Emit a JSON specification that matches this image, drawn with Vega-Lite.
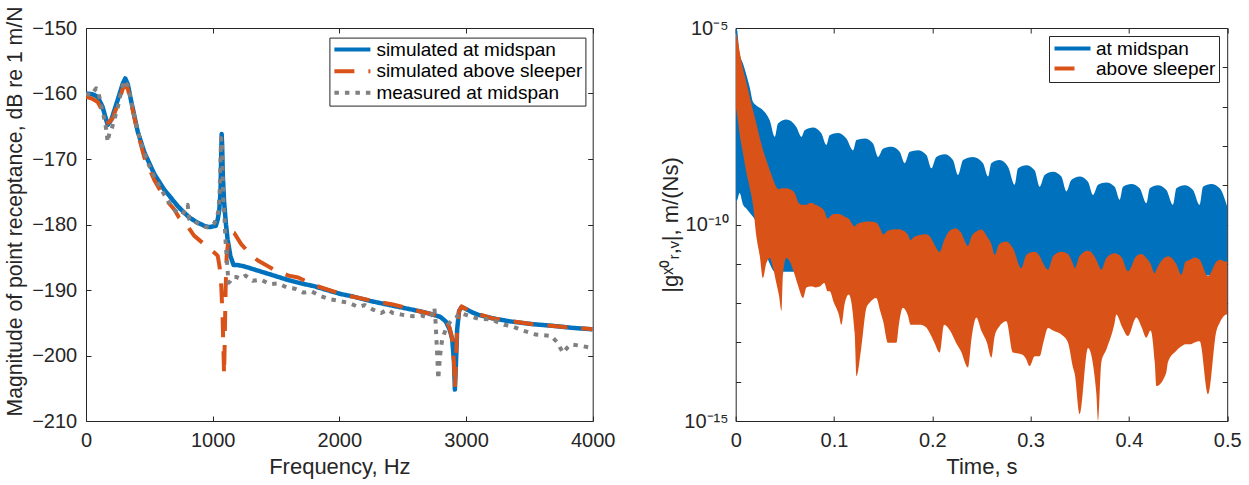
{
"$schema": "https://vega.github.io/schema/vega-lite/v6.json",
"background": "white",
"padding": {"left": 4, "top": 6, "right": 4, "bottom": 4},
"bounds": "flush",
"spacing": 142.7,
"resolve": {"scale": {"color": "independent", "strokeDash": "independent"}, "legend": {"color": "independent", "strokeDash": "independent"}},
"config": {
 "font": "Liberation Sans",
 "view": {"stroke": null},
 "axis": {"domainColor": "#262626", "tickColor": "#262626", "labelColor": "#262626", "titleColor": "#262626", "labelFont": "Liberation Sans", "titleFont": "Liberation Sans", "labelFontSize": 20, "titleFontSize": 22, "titleFontWeight": "normal", "tickSize": -5, "grid": false, "labelFlush": false, "labelOverlap": false, "domainWidth": 1, "tickWidth": 1},
 "legend": {"strokeColor": "#262626", "fillColor": "white", "padding": 2.5, "labelFont": "Liberation Sans", "labelFontSize": 19, "labelColor": "#000000", "labelLimit": 400, "symbolSize": 100, "labelOffset": 25.5, "orient": "none"}
},
"datasets": {
 "mid": [
  {"s":"simulated at midspan","f":0,"dB":-160.0},{"s":"simulated at midspan","f":50,"dB":-160.1},{"s":"simulated at midspan","f":92,"dB":-160.5},{"s":"simulated at midspan","f":130,"dB":-162.0},{"s":"simulated at midspan","f":171,"dB":-164.8},{"s":"simulated at midspan","f":200,"dB":-164.0},{"s":"simulated at midspan","f":250,"dB":-161.0},{"s":"simulated at midspan","f":290,"dB":-158.5},{"s":"simulated at midspan","f":310,"dB":-157.7},{"s":"simulated at midspan","f":330,"dB":-158.6},{"s":"simulated at midspan","f":355,"dB":-161.0},{"s":"simulated at midspan","f":408,"dB":-165.8},{"s":"simulated at midspan","f":461,"dB":-169.0},{"s":"simulated at midspan","f":539,"dB":-172.3},{"s":"simulated at midspan","f":618,"dB":-174.7},{"s":"simulated at midspan","f":653,"dB":-175.5},{"s":"simulated at midspan","f":724,"dB":-177.2},{"s":"simulated at midspan","f":813,"dB":-178.9},{"s":"simulated at midspan","f":880,"dB":-179.7},{"s":"simulated at midspan","f":934,"dB":-180.2},{"s":"simulated at midspan","f":972,"dB":-180.4},{"s":"simulated at midspan","f":1000,"dB":-180.3},{"s":"simulated at midspan","f":1025,"dB":-180.2},{"s":"simulated at midspan","f":1040,"dB":-179.2},{"s":"simulated at midspan","f":1052,"dB":-177.8},{"s":"simulated at midspan","f":1062,"dB":-175.0},{"s":"simulated at midspan","f":1067,"dB":-170.0},{"s":"simulated at midspan","f":1071,"dB":-166.2},{"s":"simulated at midspan","f":1075,"dB":-168.0},{"s":"simulated at midspan","f":1080,"dB":-172.5},{"s":"simulated at midspan","f":1090,"dB":-176.5},{"s":"simulated at midspan","f":1105,"dB":-180.0},{"s":"simulated at midspan","f":1118,"dB":-182.3},{"s":"simulated at midspan","f":1140,"dB":-184.8},{"s":"simulated at midspan","f":1165,"dB":-186.2},{"s":"simulated at midspan","f":1200,"dB":-186.2},{"s":"simulated at midspan","f":1250,"dB":-186.4},{"s":"simulated at midspan","f":1317,"dB":-186.8},{"s":"simulated at midspan","f":1400,"dB":-187.3},{"s":"simulated at midspan","f":1484,"dB":-187.8},{"s":"simulated at midspan","f":1583,"dB":-188.4},{"s":"simulated at midspan","f":1700,"dB":-189.0},{"s":"simulated at midspan","f":1797,"dB":-189.4},{"s":"simulated at midspan","f":1900,"dB":-190.0},{"s":"simulated at midspan","f":2008,"dB":-190.6},{"s":"simulated at midspan","f":2109,"dB":-191.0},{"s":"simulated at midspan","f":2250,"dB":-191.7},{"s":"simulated at midspan","f":2422,"dB":-192.4},{"s":"simulated at midspan","f":2550,"dB":-192.9},{"s":"simulated at midspan","f":2672,"dB":-193.4},{"s":"simulated at midspan","f":2797,"dB":-194.1},{"s":"simulated at midspan","f":2840,"dB":-194.8},{"s":"simulated at midspan","f":2870,"dB":-196.0},{"s":"simulated at midspan","f":2891,"dB":-197.5},{"s":"simulated at midspan","f":2905,"dB":-201.0},{"s":"simulated at midspan","f":2912,"dB":-205.2},{"s":"simulated at midspan","f":2920,"dB":-201.5},{"s":"simulated at midspan","f":2930,"dB":-196.0},{"s":"simulated at midspan","f":2945,"dB":-193.2},{"s":"simulated at midspan","f":2965,"dB":-192.6},{"s":"simulated at midspan","f":3000,"dB":-192.9},{"s":"simulated at midspan","f":3047,"dB":-193.4},{"s":"simulated at midspan","f":3100,"dB":-193.8},{"s":"simulated at midspan","f":3203,"dB":-194.3},{"s":"simulated at midspan","f":3350,"dB":-194.8},{"s":"simulated at midspan","f":3516,"dB":-195.2},{"s":"simulated at midspan","f":3700,"dB":-195.5},{"s":"simulated at midspan","f":3850,"dB":-195.8},{"s":"simulated at midspan","f":4000,"dB":-196.0}
 ],
 "slp": [
  {"s":"simulated above sleeper","f":0,"dB":-160.5},{"s":"simulated above sleeper","f":50,"dB":-160.8},{"s":"simulated above sleeper","f":92,"dB":-161.3},{"s":"simulated above sleeper","f":130,"dB":-162.6},{"s":"simulated above sleeper","f":175,"dB":-164.5},{"s":"simulated above sleeper","f":210,"dB":-163.8},{"s":"simulated above sleeper","f":250,"dB":-161.7},{"s":"simulated above sleeper","f":290,"dB":-159.3},{"s":"simulated above sleeper","f":310,"dB":-158.7},{"s":"simulated above sleeper","f":330,"dB":-159.3},{"s":"simulated above sleeper","f":360,"dB":-161.8},{"s":"simulated above sleeper","f":408,"dB":-166.0},{"s":"simulated above sleeper","f":461,"dB":-169.8},{"s":"simulated above sleeper","f":539,"dB":-173.2},{"s":"simulated above sleeper","f":618,"dB":-175.9},{"s":"simulated above sleeper","f":697,"dB":-177.7},{"s":"simulated above sleeper","f":733,"dB":-178.9},{"s":"simulated above sleeper","f":800,"dB":-180.2},{"s":"simulated above sleeper","f":853,"dB":-181.7},{"s":"simulated above sleeper","f":920,"dB":-182.8},{"s":"simulated above sleeper","f":972,"dB":-183.7},{"s":"simulated above sleeper","f":1020,"dB":-184.4},{"s":"simulated above sleeper","f":1040,"dB":-184.8},{"s":"simulated above sleeper","f":1055,"dB":-186.5},{"s":"simulated above sleeper","f":1068,"dB":-189.5},{"s":"simulated above sleeper","f":1078,"dB":-194.0},{"s":"simulated above sleeper","f":1085,"dB":-199.0},{"s":"simulated above sleeper","f":1090,"dB":-203.0},{"s":"simulated above sleeper","f":1095,"dB":-198.0},{"s":"simulated above sleeper","f":1102,"dB":-190.0},{"s":"simulated above sleeper","f":1110,"dB":-185.0},{"s":"simulated above sleeper","f":1125,"dB":-182.0},{"s":"simulated above sleeper","f":1150,"dB":-181.2},{"s":"simulated above sleeper","f":1170,"dB":-181.3},{"s":"simulated above sleeper","f":1225,"dB":-183.0},{"s":"simulated above sleeper","f":1300,"dB":-184.6},{"s":"simulated above sleeper","f":1357,"dB":-185.5},{"s":"simulated above sleeper","f":1430,"dB":-186.3},{"s":"simulated above sleeper","f":1503,"dB":-187.1},{"s":"simulated above sleeper","f":1600,"dB":-187.8},{"s":"simulated above sleeper","f":1675,"dB":-188.1},{"s":"simulated above sleeper","f":1822,"dB":-189.4},{"s":"simulated above sleeper","f":1953,"dB":-190.2},{"s":"simulated above sleeper","f":2100,"dB":-191.0},{"s":"simulated above sleeper","f":2250,"dB":-191.6},{"s":"simulated above sleeper","f":2422,"dB":-192.2},{"s":"simulated above sleeper","f":2580,"dB":-193.0},{"s":"simulated above sleeper","f":2734,"dB":-193.7},{"s":"simulated above sleeper","f":2840,"dB":-194.6},{"s":"simulated above sleeper","f":2870,"dB":-195.7},{"s":"simulated above sleeper","f":2891,"dB":-197.5},{"s":"simulated above sleeper","f":2905,"dB":-201.0},{"s":"simulated above sleeper","f":2912,"dB":-205.0},{"s":"simulated above sleeper","f":2920,"dB":-201.0},{"s":"simulated above sleeper","f":2930,"dB":-196.0},{"s":"simulated above sleeper","f":2945,"dB":-193.2},{"s":"simulated above sleeper","f":2965,"dB":-192.5},{"s":"simulated above sleeper","f":3000,"dB":-192.9},{"s":"simulated above sleeper","f":3047,"dB":-193.4},{"s":"simulated above sleeper","f":3203,"dB":-194.3},{"s":"simulated above sleeper","f":3516,"dB":-195.2},{"s":"simulated above sleeper","f":4000,"dB":-196.0}
 ],
 "meas": [
  {"s":"measured at midspan","f":0,"dB":-160.0},{"s":"measured at midspan","f":40,"dB":-160.3},{"s":"measured at midspan","f":79,"dB":-159.2},{"s":"measured at midspan","f":100,"dB":-160.0},{"s":"measured at midspan","f":118,"dB":-161.7},{"s":"measured at midspan","f":140,"dB":-163.5},{"s":"measured at midspan","f":158,"dB":-165.3},{"s":"measured at midspan","f":171,"dB":-167.4},{"s":"measured at midspan","f":185,"dB":-166.0},{"s":"measured at midspan","f":197,"dB":-165.8},{"s":"measured at midspan","f":220,"dB":-164.2},{"s":"measured at midspan","f":250,"dB":-162.2},{"s":"measured at midspan","f":280,"dB":-159.5},{"s":"measured at midspan","f":303,"dB":-158.0},{"s":"measured at midspan","f":330,"dB":-158.8},{"s":"measured at midspan","f":360,"dB":-161.5},{"s":"measured at midspan","f":408,"dB":-165.8},{"s":"measured at midspan","f":450,"dB":-168.5},{"s":"measured at midspan","f":487,"dB":-170.5},{"s":"measured at midspan","f":540,"dB":-172.8},{"s":"measured at midspan","f":592,"dB":-174.6},{"s":"measured at midspan","f":650,"dB":-176.5},{"s":"measured at midspan","f":700,"dB":-177.8},{"s":"measured at midspan","f":724,"dB":-178.2},{"s":"measured at midspan","f":760,"dB":-178.5},{"s":"measured at midspan","f":790,"dB":-177.5},{"s":"measured at midspan","f":803,"dB":-177.0},{"s":"measured at midspan","f":815,"dB":-179.2},{"s":"measured at midspan","f":850,"dB":-179.5},{"s":"measured at midspan","f":900,"dB":-180.0},{"s":"measured at midspan","f":934,"dB":-180.3},{"s":"measured at midspan","f":970,"dB":-180.5},{"s":"measured at midspan","f":1000,"dB":-180.0},{"s":"measured at midspan","f":1013,"dB":-179.8},{"s":"measured at midspan","f":1030,"dB":-179.0},{"s":"measured at midspan","f":1045,"dB":-178.0},{"s":"measured at midspan","f":1055,"dB":-175.0},{"s":"measured at midspan","f":1062,"dB":-170.0},{"s":"measured at midspan","f":1066,"dB":-166.8},{"s":"measured at midspan","f":1072,"dB":-167.0},{"s":"measured at midspan","f":1078,"dB":-172.0},{"s":"measured at midspan","f":1085,"dB":-177.0},{"s":"measured at midspan","f":1092,"dB":-178.3},{"s":"measured at midspan","f":1100,"dB":-182.0},{"s":"measured at midspan","f":1110,"dB":-184.8},{"s":"measured at midspan","f":1125,"dB":-188.9},{"s":"measured at midspan","f":1141,"dB":-188.6},{"s":"measured at midspan","f":1160,"dB":-188.0},{"s":"measured at midspan","f":1185,"dB":-188.0},{"s":"measured at midspan","f":1220,"dB":-188.3},{"s":"measured at midspan","f":1260,"dB":-187.8},{"s":"measured at midspan","f":1317,"dB":-188.6},{"s":"measured at midspan","f":1380,"dB":-188.4},{"s":"measured at midspan","f":1450,"dB":-189.1},{"s":"measured at midspan","f":1520,"dB":-189.0},{"s":"measured at midspan","f":1583,"dB":-189.6},{"s":"measured at midspan","f":1650,"dB":-189.8},{"s":"measured at midspan","f":1717,"dB":-190.4},{"s":"measured at midspan","f":1780,"dB":-190.2},{"s":"measured at midspan","f":1850,"dB":-190.9},{"s":"measured at midspan","f":1920,"dB":-191.4},{"s":"measured at midspan","f":2008,"dB":-191.7},{"s":"measured at midspan","f":2080,"dB":-192.0},{"s":"measured at midspan","f":2150,"dB":-192.6},{"s":"measured at midspan","f":2200,"dB":-192.3},{"s":"measured at midspan","f":2266,"dB":-193.0},{"s":"measured at midspan","f":2330,"dB":-193.5},{"s":"measured at midspan","f":2380,"dB":-193.0},{"s":"measured at midspan","f":2422,"dB":-193.5},{"s":"measured at midspan","f":2500,"dB":-193.8},{"s":"measured at midspan","f":2578,"dB":-194.0},{"s":"measured at midspan","f":2650,"dB":-193.9},{"s":"measured at midspan","f":2700,"dB":-194.2},{"s":"measured at midspan","f":2734,"dB":-193.7},{"s":"measured at midspan","f":2750,"dB":-192.7},{"s":"measured at midspan","f":2760,"dB":-195.0},{"s":"measured at midspan","f":2770,"dB":-199.0},{"s":"measured at midspan","f":2781,"dB":-203.6},{"s":"measured at midspan","f":2795,"dB":-200.0},{"s":"measured at midspan","f":2812,"dB":-197.5},{"s":"measured at midspan","f":2840,"dB":-196.0},{"s":"measured at midspan","f":2870,"dB":-195.0},{"s":"measured at midspan","f":2891,"dB":-194.5},{"s":"measured at midspan","f":2920,"dB":-194.2},{"s":"measured at midspan","f":2953,"dB":-193.5},{"s":"measured at midspan","f":3000,"dB":-193.8},{"s":"measured at midspan","f":3100,"dB":-194.4},{"s":"measured at midspan","f":3200,"dB":-194.5},{"s":"measured at midspan","f":3300,"dB":-195.3},{"s":"measured at midspan","f":3359,"dB":-195.5},{"s":"measured at midspan","f":3450,"dB":-196.2},{"s":"measured at midspan","f":3550,"dB":-196.8},{"s":"measured at midspan","f":3672,"dB":-197.0},{"s":"measured at midspan","f":3720,"dB":-198.0},{"s":"measured at midspan","f":3766,"dB":-199.6},{"s":"measured at midspan","f":3800,"dB":-198.8},{"s":"measured at midspan","f":3828,"dB":-198.3},{"s":"measured at midspan","f":3900,"dB":-198.5},{"s":"measured at midspan","f":3984,"dB":-198.8},{"s":"measured at midspan","f":4000,"dB":-199.0}
 ],
 "tb": [
  {"s":"at midspan","t":0,"hi":8.7e-6,"lo":4.27e-10},{"s":"at midspan","t":0.001,"hi":9.55e-6,"lo":3.98e-10},{"s":"at midspan","t":0.004,"hi":2.24e-6,"lo":6.31e-10},{"s":"at midspan","t":0.0075,"hi":1.23e-6,"lo":3.16e-10},{"s":"at midspan","t":0.011,"hi":6.31e-7,"lo":2.51e-10},{"s":"at midspan","t":0.0142,"hi":3.16e-7,"lo":2.0e-10},{"s":"at midspan","t":0.0176,"hi":1.32e-7,"lo":1.58e-10},{"s":"at midspan","t":0.021,"hi":1.07e-7,"lo":1.12e-10},{"s":"at midspan","t":0.0278,"hi":8.13e-8,"lo":3.16e-11},{"s":"at midspan","t":0.0346,"hi":4.47e-8,"lo":1e-11},{"s":"at midspan","t":0.0397,"hi":1.7e-8,"lo":6.31e-12},{"s":"at midspan","t":0.043,"hi":3.72e-8,"lo":6.31e-12},{"s":"at midspan","t":0.0515,"hi":4.68e-8,"lo":6.31e-12},{"s":"at midspan","t":0.0617,"hi":3.02e-8,"lo":6.31e-12},{"s":"at midspan","t":0.0668,"hi":1.7e-8,"lo":5.01e-12},{"s":"at midspan","t":0.0702,"hi":2.51e-8,"lo":5.01e-12},{"s":"at midspan","t":0.0787,"hi":2.95e-8,"lo":5.01e-12},{"s":"at midspan","t":0.0871,"hi":2.09e-8,"lo":5.01e-12},{"s":"at midspan","t":0.0922,"hi":1.05e-8,"lo":5.01e-12},{"s":"at midspan","t":0.0956,"hi":1.86e-8,"lo":5.01e-12},{"s":"at midspan","t":0.104,"hi":2.14e-8,"lo":5.01e-12},{"s":"at midspan","t":0.1126,"hi":1.55e-8,"lo":5.01e-12},{"s":"at midspan","t":0.1194,"hi":7.76e-9,"lo":5.01e-12},{"s":"at midspan","t":0.1228,"hi":1.41e-8,"lo":5.01e-12},{"s":"at midspan","t":0.1312,"hi":1.55e-8,"lo":5.01e-12},{"s":"at midspan","t":0.1397,"hi":1.15e-8,"lo":5.01e-12},{"s":"at midspan","t":0.1448,"hi":5.25e-9,"lo":5.01e-12},{"s":"at midspan","t":0.1499,"hi":8.51e-9,"lo":5.01e-12},{"s":"at midspan","t":0.1584,"hi":9.55e-9,"lo":5.01e-12},{"s":"at midspan","t":0.1668,"hi":7.08e-9,"lo":5.01e-12},{"s":"at midspan","t":0.1719,"hi":3.63e-9,"lo":5.01e-12},{"s":"at midspan","t":0.177,"hi":7.08e-9,"lo":5.01e-12},{"s":"at midspan","t":0.1855,"hi":7.76e-9,"lo":5.01e-12},{"s":"at midspan","t":0.194,"hi":5.89e-9,"lo":5.01e-12},{"s":"at midspan","t":0.1991,"hi":2.69e-9,"lo":5.01e-12},{"s":"at midspan","t":0.2041,"hi":5.25e-9,"lo":5.01e-12},{"s":"at midspan","t":0.2126,"hi":6.17e-9,"lo":5.01e-12},{"s":"at midspan","t":0.221,"hi":4.37e-9,"lo":5.01e-12},{"s":"at midspan","t":0.2262,"hi":1.82e-9,"lo":5.01e-12},{"s":"at midspan","t":0.2313,"hi":4.37e-9,"lo":5.01e-12},{"s":"at midspan","t":0.2414,"hi":5.25e-9,"lo":5.01e-12},{"s":"at midspan","t":0.2516,"hi":3.63e-9,"lo":5.01e-12},{"s":"at midspan","t":0.2567,"hi":1.66e-9,"lo":5.01e-12},{"s":"at midspan","t":0.26,"hi":3.63e-9,"lo":5.01e-12},{"s":"at midspan","t":0.2686,"hi":4.37e-9,"lo":5.01e-12},{"s":"at midspan","t":0.277,"hi":2.95e-9,"lo":5.01e-12},{"s":"at midspan","t":0.2838,"hi":1.02e-9,"lo":5.01e-12},{"s":"at midspan","t":0.2872,"hi":2.69e-9,"lo":5.01e-12},{"s":"at midspan","t":0.2957,"hi":3.24e-9,"lo":5.01e-12},{"s":"at midspan","t":0.3041,"hi":2.4e-9,"lo":5.01e-12},{"s":"at midspan","t":0.3092,"hi":9.12e-10,"lo":5.01e-12},{"s":"at midspan","t":0.3143,"hi":1.82e-9,"lo":5.01e-12},{"s":"at midspan","t":0.3228,"hi":2.19e-9,"lo":5.01e-12},{"s":"at midspan","t":0.3313,"hi":1.66e-9,"lo":5.01e-12},{"s":"at midspan","t":0.3364,"hi":6.92e-10,"lo":5.01e-12},{"s":"at midspan","t":0.3414,"hi":1.35e-9,"lo":5.01e-12},{"s":"at midspan","t":0.3499,"hi":1.66e-9,"lo":5.01e-12},{"s":"at midspan","t":0.3584,"hi":1.23e-9,"lo":5.01e-12},{"s":"at midspan","t":0.3635,"hi":5.62e-10,"lo":5.01e-12},{"s":"at midspan","t":0.3686,"hi":1.02e-9,"lo":5.01e-12},{"s":"at midspan","t":0.3771,"hi":1.17e-9,"lo":5.01e-12},{"s":"at midspan","t":0.3855,"hi":9.12e-10,"lo":5.01e-12},{"s":"at midspan","t":0.3906,"hi":4.27e-10,"lo":5.01e-12},{"s":"at midspan","t":0.394,"hi":9.12e-10,"lo":5.01e-12},{"s":"at midspan","t":0.4025,"hi":1.07e-9,"lo":5.01e-12},{"s":"at midspan","t":0.411,"hi":8.32e-10,"lo":5.01e-12},{"s":"at midspan","t":0.4178,"hi":3.47e-10,"lo":5.01e-12},{"s":"at midspan","t":0.4212,"hi":8.32e-10,"lo":5.01e-12},{"s":"at midspan","t":0.4296,"hi":1e-9,"lo":5.01e-12},{"s":"at midspan","t":0.4381,"hi":7.59e-10,"lo":5.01e-12},{"s":"at midspan","t":0.4449,"hi":3.16e-10,"lo":5.01e-12},{"s":"at midspan","t":0.4483,"hi":8.32e-10,"lo":5.01e-12},{"s":"at midspan","t":0.4568,"hi":1e-9,"lo":5.01e-12},{"s":"at midspan","t":0.4652,"hi":7.59e-10,"lo":5.01e-12},{"s":"at midspan","t":0.472,"hi":3.16e-10,"lo":5.01e-12},{"s":"at midspan","t":0.4754,"hi":9.12e-10,"lo":5.01e-12},{"s":"at midspan","t":0.4839,"hi":1.07e-9,"lo":5.01e-12},{"s":"at midspan","t":0.4924,"hi":8.32e-10,"lo":5.01e-12},{"s":"at midspan","t":0.5,"hi":2.88e-10,"lo":5.01e-12}
 ],
 "to": [
  {"s":"above sleeper","t":0,"hi":7.94e-6,"lo":1e-7},{"s":"above sleeper","t":0.002,"hi":5.01e-6,"lo":5.01e-8},{"s":"above sleeper","t":0.004,"hi":2.51e-6,"lo":2.0e-8},{"s":"above sleeper","t":0.0075,"hi":8.91e-7,"lo":6.31e-9},{"s":"above sleeper","t":0.011,"hi":3.98e-7,"lo":2.0e-9},{"s":"above sleeper","t":0.0142,"hi":1.78e-7,"lo":8.91e-10},{"s":"above sleeper","t":0.0176,"hi":7.94e-8,"lo":3.16e-10},{"s":"above sleeper","t":0.021,"hi":3.72e-8,"lo":5.01e-11},{"s":"above sleeper","t":0.0245,"hi":1.58e-8,"lo":1.58e-11},{"s":"above sleeper","t":0.0278,"hi":7.76e-9,"lo":4.37e-12},{"s":"above sleeper","t":0.031,"hi":4.47e-9,"lo":1e-11},{"s":"above sleeper","t":0.0346,"hi":2.45e-9,"lo":1.41e-11},{"s":"above sleeper","t":0.038,"hi":1.41e-9,"lo":7.94e-12},{"s":"above sleeper","t":0.0414,"hi":8.91e-10,"lo":3.16e-12},{"s":"above sleeper","t":0.044,"hi":7.94e-10,"lo":1.58e-12},{"s":"above sleeper","t":0.0465,"hi":8.32e-10,"lo":6.31e-13},{"s":"above sleeper","t":0.048,"hi":8.32e-10,"lo":5.01e-12},{"s":"above sleeper","t":0.0515,"hi":8.32e-10,"lo":1.41e-11},{"s":"above sleeper","t":0.055,"hi":7.94e-10,"lo":1.15e-11},{"s":"above sleeper","t":0.06,"hi":6.31e-10,"lo":5.25e-12},{"s":"above sleeper","t":0.064,"hi":3.55e-10,"lo":2.51e-12},{"s":"above sleeper","t":0.0685,"hi":3.16e-10,"lo":1.35e-12},{"s":"above sleeper","t":0.072,"hi":3.16e-10,"lo":2.51e-12},{"s":"above sleeper","t":0.0753,"hi":3.55e-10,"lo":2.63e-12},{"s":"above sleeper","t":0.0775,"hi":3.55e-10,"lo":2.63e-12},{"s":"above sleeper","t":0.0815,"hi":3.16e-10,"lo":2.51e-12},{"s":"above sleeper","t":0.0855,"hi":2.82e-10,"lo":2.63e-12},{"s":"above sleeper","t":0.09,"hi":2.24e-10,"lo":3.24e-12},{"s":"above sleeper","t":0.0935,"hi":1.41e-10,"lo":2.0e-12},{"s":"above sleeper","t":0.0956,"hi":1.58e-10,"lo":2.0e-12},{"s":"above sleeper","t":0.1,"hi":1.86e-10,"lo":1e-12},{"s":"above sleeper","t":0.105,"hi":1.86e-10,"lo":5.01e-13},{"s":"above sleeper","t":0.1075,"hi":1.78e-10,"lo":2.82e-13},{"s":"above sleeper","t":0.111,"hi":1.58e-10,"lo":1e-12},{"s":"above sleeper","t":0.115,"hi":1.41e-10,"lo":1.66e-12},{"s":"above sleeper","t":0.121,"hi":8.91e-11,"lo":1.74e-13},{"s":"above sleeper","t":0.1228,"hi":1e-10,"lo":1.38e-14},{"s":"above sleeper","t":0.1278,"hi":1.12e-10,"lo":7.41e-14},{"s":"above sleeper","t":0.133,"hi":1.2e-10,"lo":7.59e-13},{"s":"above sleeper","t":0.136,"hi":1.2e-10,"lo":1e-12},{"s":"above sleeper","t":0.143,"hi":1.12e-10,"lo":1.35e-12},{"s":"above sleeper","t":0.147,"hi":7.94e-11,"lo":6.31e-13},{"s":"above sleeper","t":0.15,"hi":5.62e-11,"lo":3.47e-13},{"s":"above sleeper","t":0.155,"hi":7.08e-11,"lo":9.77e-14},{"s":"above sleeper","t":0.1635,"hi":7.59e-11,"lo":9.77e-14},{"s":"above sleeper","t":0.166,"hi":7.59e-11,"lo":2.82e-13},{"s":"above sleeper","t":0.17,"hi":7.08e-11,"lo":7.59e-13},{"s":"above sleeper","t":0.175,"hi":5.62e-11,"lo":5.01e-13},{"s":"above sleeper","t":0.178,"hi":3.98e-11,"lo":2.82e-13},{"s":"above sleeper","t":0.18,"hi":4.47e-11,"lo":2.82e-13},{"s":"above sleeper","t":0.187,"hi":5.37e-11,"lo":2.82e-13},{"s":"above sleeper","t":0.193,"hi":5.62e-11,"lo":2.51e-13},{"s":"above sleeper","t":0.1974,"hi":5.01e-11,"lo":1.74e-13},{"s":"above sleeper","t":0.202,"hi":3.16e-11,"lo":1e-13},{"s":"above sleeper","t":0.2075,"hi":2.0e-11,"lo":5.5e-14},{"s":"above sleeper","t":0.212,"hi":3.98e-11,"lo":2.82e-13},{"s":"above sleeper","t":0.218,"hi":7.08e-11,"lo":2.0e-13},{"s":"above sleeper","t":0.224,"hi":7.94e-11,"lo":1e-13},{"s":"above sleeper","t":0.229,"hi":6.31e-11,"lo":6.03e-14},{"s":"above sleeper","t":0.2363,"hi":2.82e-11,"lo":2.29e-14},{"s":"above sleeper","t":0.24,"hi":5.01e-11,"lo":1.32e-13},{"s":"above sleeper","t":0.2448,"hi":6.61e-11,"lo":4.27e-13},{"s":"above sleeper","t":0.25,"hi":7.41e-11,"lo":1.95e-13},{"s":"above sleeper","t":0.2555,"hi":5.01e-11,"lo":1e-13},{"s":"above sleeper","t":0.2601,"hi":3.16e-11,"lo":4.07e-14},{"s":"above sleeper","t":0.2635,"hi":1.7e-11,"lo":1.45e-13},{"s":"above sleeper","t":0.268,"hi":3.16e-11,"lo":2.51e-13},{"s":"above sleeper","t":0.2753,"hi":3.72e-11,"lo":3.47e-13},{"s":"above sleeper","t":0.282,"hi":2.51e-11,"lo":5.5e-14},{"s":"above sleeper","t":0.2906,"hi":7.76e-12,"lo":5.01e-14},{"s":"above sleeper","t":0.295,"hi":1.58e-11,"lo":3.98e-14},{"s":"above sleeper","t":0.299,"hi":1.91e-11,"lo":2.51e-14},{"s":"above sleeper","t":0.3042,"hi":2.04e-11,"lo":4.47e-14},{"s":"above sleeper","t":0.3092,"hi":1.58e-11,"lo":4.47e-14},{"s":"above sleeper","t":0.313,"hi":1e-11,"lo":1e-13},{"s":"above sleeper","t":0.3177,"hi":7.08e-12,"lo":2.34e-13},{"s":"above sleeper","t":0.323,"hi":1.58e-11,"lo":2.0e-13},{"s":"above sleeper","t":0.3313,"hi":2.04e-11,"lo":1.58e-13},{"s":"above sleeper","t":0.338,"hi":1.78e-11,"lo":1e-13},{"s":"above sleeper","t":0.3431,"hi":1e-11,"lo":2.29e-14},{"s":"above sleeper","t":0.3449,"hi":7.76e-12,"lo":1.58e-14},{"s":"above sleeper","t":0.3499,"hi":1.58e-11,"lo":1.51e-15},{"s":"above sleeper","t":0.3584,"hi":2.14e-11,"lo":7.24e-14},{"s":"above sleeper","t":0.3668,"hi":1.26e-11,"lo":5.25e-15},{"s":"above sleeper","t":0.3686,"hi":1e-11,"lo":1e-15},{"s":"above sleeper","t":0.372,"hi":7.08e-12,"lo":3.16e-14},{"s":"above sleeper","t":0.3771,"hi":1.41e-11,"lo":6.61e-14},{"s":"above sleeper","t":0.3855,"hi":1.86e-11,"lo":3.16e-13},{"s":"above sleeper","t":0.3872,"hi":1.82e-11,"lo":5.13e-13},{"s":"above sleeper","t":0.393,"hi":1.41e-11,"lo":2.51e-13},{"s":"above sleeper","t":0.3991,"hi":6.46e-12,"lo":1.45e-13},{"s":"above sleeper","t":0.4076,"hi":1.58e-11,"lo":4.27e-13},{"s":"above sleeper","t":0.4127,"hi":1.78e-11,"lo":2.51e-13},{"s":"above sleeper","t":0.4178,"hi":1.41e-11,"lo":1.32e-13},{"s":"above sleeper","t":0.422,"hi":1e-11,"lo":2.0e-13},{"s":"above sleeper","t":0.4263,"hi":5.75e-12,"lo":3.16e-14},{"s":"above sleeper","t":0.4279,"hi":7.08e-12,"lo":7.76e-15},{"s":"above sleeper","t":0.438,"hi":1.51e-11,"lo":1.7e-14},{"s":"above sleeper","t":0.4398,"hi":1.55e-11,"lo":3.16e-14},{"s":"above sleeper","t":0.448,"hi":1e-11,"lo":6.03e-14},{"s":"above sleeper","t":0.4534,"hi":5.25e-12,"lo":7.94e-14},{"s":"above sleeper","t":0.4575,"hi":1.12e-11,"lo":9e-14},{"s":"above sleeper","t":0.462,"hi":1.26e-11,"lo":8.91e-14},{"s":"above sleeper","t":0.4668,"hi":1.45e-11,"lo":1e-13},{"s":"above sleeper","t":0.472,"hi":1.26e-11,"lo":1.07e-13},{"s":"above sleeper","t":0.4805,"hi":4.79e-12,"lo":4.79e-15},{"s":"above sleeper","t":0.489,"hi":1.12e-11,"lo":1.95e-13},{"s":"above sleeper","t":0.4924,"hi":1.26e-11,"lo":3.16e-13},{"s":"above sleeper","t":0.4992,"hi":1.12e-11,"lo":5.13e-13},{"s":"above sleeper","t":0.5,"hi":1.12e-11,"lo":5.13e-13}
 ]
},
"hconcat": [
 {
  "width": 506.7, "height": 393,
  "layer": [
   {"data": {"name": "mid"}, "mark": {"type": "line", "strokeWidth": 4.5, "strokeJoin": "round", "clip": true},
    "encoding": {
     "x": {"field": "f", "type": "quantitative", "scale": {"domain": [0, 4000], "nice": false, "zero": false}, "axis": {"orient": "bottom", "values": [0, 1000, 2000, 3000, 4000], "format": "d", "title": "Frequency, Hz", "labelPadding": 14.5, "titlePadding": 5.5}},
     "y": {"field": "dB", "type": "quantitative", "scale": {"domain": [-210, -150], "nice": false, "zero": false}, "axis": {"orient": "left", "values": [-210, -200, -190, -180, -170, -160, -150], "format": "d", "title": "Magnitude of point receptance, dB re 1 m/N", "titleFontSize": 21.2, "titleY": 183, "labelPadding": 14.3, "titlePadding": 6.6}},
     "color": {"field": "s", "type": "nominal", "scale": {"domain": ["simulated at midspan", "simulated above sleeper", "measured at midspan"], "range": ["#0072BD", "#D95319", "#808080"]},
      "legend": {"title": null, "orient": "none", "legendX": 243.4, "legendY": 9.6, "symbolType": "M-1.4,0H5.8", "symbolStrokeWidth": 4, "rowPadding": 1.6}},
     "strokeDash": {"field": "s", "type": "nominal", "scale": {"domain": ["simulated at midspan", "simulated above sleeper", "measured at midspan"], "range": [[1, 0], [20, 14], [4.5, 6]]},
      "legend": {"title": null, "orient": "none", "legendX": 243.4, "legendY": 9.6, "symbolType": "M-1.4,0H5.8", "symbolStrokeWidth": 4, "rowPadding": 1.6}}
    }},
   {"data": {"name": "slp"}, "mark": {"type": "line", "strokeWidth": 4, "strokeJoin": "round", "clip": true},
    "encoding": {
     "x": {"field": "f", "type": "quantitative", "axis": null},
     "y": {"field": "dB", "type": "quantitative", "axis": null},
     "color": {"field": "s", "type": "nominal"},
     "strokeDash": {"field": "s", "type": "nominal"}
    }},
   {"data": {"name": "meas"}, "mark": {"type": "line", "strokeWidth": 4, "strokeJoin": "round", "clip": true},
    "encoding": {
     "x": {"field": "f", "type": "quantitative", "axis": null},
     "y": {"field": "dB", "type": "quantitative", "axis": null},
     "color": {"field": "s", "type": "nominal"},
     "strokeDash": {"field": "s", "type": "nominal"}
    }},
   {"data": {"name": "mid"}, "mark": {"type": "point", "opacity": 0},
    "encoding": {
     "x": {"field": "f", "type": "quantitative", "axis": {"orient": "top", "values": [0, 1000, 2000, 3000, 4000], "labels": false, "title": null}},
     "y": {"field": "dB", "type": "quantitative", "axis": {"orient": "right", "values": [-210, -200, -190, -180, -170, -160, -150], "labels": false, "title": null}}
    }}
  ],
  "resolve": {"axis": {"x": "independent", "y": "independent"}}
 },
 {
  "width": 491.5, "height": 393,
  "layer": [
   {"data": {"name": "tb"}, "mark": {"type": "area", "clip": true, "interpolate": "monotone"},
    "encoding": {
     "x": {"field": "t", "type": "quantitative", "scale": {"domain": [0, 0.5], "nice": false, "zero": false}, "axis": {"orient": "bottom", "values": [0, 0.1, 0.2, 0.3, 0.4, 0.5], "format": "~g", "title": "Time, s", "labelPadding": 14.5, "titlePadding": 5.5}},
     "y": {"field": "hi", "type": "quantitative", "scale": {"type": "log", "domain": [1e-15, 1e-5], "nice": false}, "axis": {"orient": "left", "values": [1e-15, 1e-14, 1e-13, 1e-12, 1e-11, 1e-10, 1e-9, 1e-8, 1e-7, 1e-6, 1e-5], "labelExpr": "round(log(datum.value)/LN10) == -5 ? '10⁻⁵' : round(log(datum.value)/LN10) == -10 ? '10⁻¹⁰' : round(log(datum.value)/LN10) == -15 ? '10⁻¹⁵' : ''", "title": "|gˣ⁰ᵣ,ᵥ|, m/(Ns)", "labelPadding": 12.7, "titlePadding": 1}},
     "y2": {"field": "lo"},
     "color": {"field": "s", "type": "nominal", "scale": {"domain": ["at midspan", "above sleeper"], "range": ["#0072BD", "#D95319"]},
      "legend": {"title": null, "orient": "none", "legendX": 313.3, "legendY": 8, "padding": 3, "labelOffset": 25, "symbolType": "M-1.4,-0.4H5.8V0.4H-1.4Z", "symbolStrokeWidth": 0, "rowPadding": 0,
       "encode": {"symbols": {"update": {"shape": {"signal": "datum.value === 'above sleeper' ? 'M-1.4,-0.4H2.6V0.4H-1.4Z' : 'M-1.4,-0.4H5.8V0.4H-1.4Z'"}}}}}}
    }},
   {"data": {"name": "to"}, "mark": {"type": "area", "clip": true, "interpolate": "monotone"},
    "encoding": {
     "x": {"field": "t", "type": "quantitative", "axis": null},
     "y": {"field": "hi", "type": "quantitative", "axis": null},
     "y2": {"field": "lo"},
     "color": {"field": "s", "type": "nominal"}
    }},
   {"data": {"name": "tb"}, "mark": {"type": "point", "opacity": 0},
    "encoding": {
     "x": {"field": "t", "type": "quantitative", "axis": {"orient": "top", "values": [0, 0.1, 0.2, 0.3, 0.4, 0.5], "labels": false, "title": null}},
     "y": {"field": "hi", "type": "quantitative", "axis": {"orient": "right", "values": [1e-15, 1e-14, 1e-13, 1e-12, 1e-11, 1e-10, 1e-9, 1e-8, 1e-7, 1e-6, 1e-5], "labels": false, "title": null}}
    }}
  ],
  "resolve": {"axis": {"x": "independent", "y": "independent"}}
 }
]
}
